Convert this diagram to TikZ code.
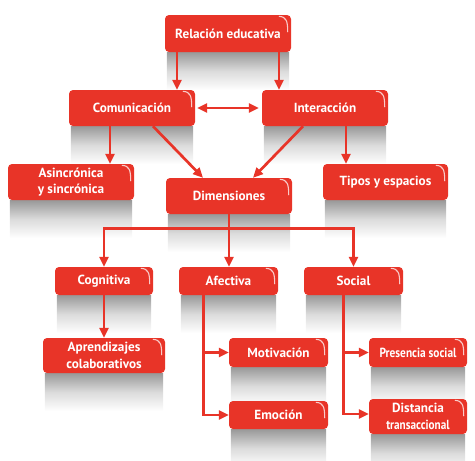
\documentclass[tikz,border=0pt]{standalone}
\usepackage{fontspec}
\setmainfont{PT Sans}
\usetikzlibrary{arrows.meta,calc}
\pgfdeclarelayer{background}
\pgfsetlayers{background,main}
\definecolor{boxred}{RGB}{232,52,40}
\newcommand{\squeezed}[2]{\scalebox{#1}[1]{#2}}
\tikzset{
  box/.style={rectangle, rounded corners=4pt, fill=boxred, text=white,
    font=\fontsize{13.2}{16.5}\selectfont\bfseries, align=center, inner sep=0pt},
  arr/.style={draw=boxred, line width=2.7pt, -{Triangle[length=10pt,width=9pt]}},
  arrtwo/.style={draw=boxred, line width=2.7pt, {Triangle[length=10pt,width=9pt]}-{Triangle[length=10pt,width=9pt]}},
  gloss/.style={draw=white, line width=1.1pt, opacity=0.75, line cap=round},
}
\begin{document}
\begin{tikzpicture}[x=1pt,y=-1pt]
\useasboundingbox (0,0) rectangle (475,461);
% boxes
\node[box, minimum width=126pt, minimum height=37pt] (rel)  at (228,33.5) {Relación educativa};
\node[box, minimum width=126pt, minimum height=36pt] (com)  at (132,108) {Comunicación};
\node[box, minimum width=126pt, minimum height=36pt] (int)  at (325,108) {Interacción};
\node[box, minimum width=126pt, minimum height=36pt] (asin) at (71,182) {Asincrónica\\y sincrónica};
\node[box, minimum width=126pt, minimum height=36pt] (dim)  at (229,196) {Dimensiones};
\node[box, minimum width=125pt, minimum height=36pt] (tip)  at (385.5,182) {Tipos y espacios};
\node[box, minimum width=98pt, minimum height=28pt] (cog)  at (104,281) {Cognitiva};
\node[box, minimum width=99pt, minimum height=28pt] (afe)  at (228.5,281) {Afectiva};
\node[box, minimum width=99pt, minimum height=28pt] (soc)  at (353.5,281) {Social};
\node[box, minimum width=122pt, minimum height=35pt] (apr)  at (104,355.5) {Aprendizajes\\colaborativos};
\node[box, minimum width=99pt, minimum height=29pt] (mot)  at (278.5,352.5) {Motivación};
\node[box, minimum width=98pt, minimum height=29pt] (pre)  at (418,352.5) {\squeezed{0.86}{Presencia social}};
\node[box, minimum width=99pt, minimum height=28pt] (emo)  at (278.5,415) {Emoción};
\node[box, minimum width=98pt, minimum height=35pt] (dis)  at (418,416.5) {Distancia\\\squeezed{0.85}{transaccional}};
% reflections and gloss
\foreach \n in {rel,com,int,asin,dim,tip,cog,afe,soc,apr,mot,pre,emo,dis}{
  \begin{pgfonlayer}{background}
    \shade[top color=black!40, bottom color=white, middle color=black!14]
      ([xshift=2pt]\n.south west) rectangle ([xshift=-2pt,yshift=-38pt]\n.south east);
  \end{pgfonlayer}
  \draw[gloss] ([xshift=-12pt,yshift=-1.6pt]\n.north east)
    .. controls ([xshift=-5pt,yshift=-2pt]\n.north east) and ([xshift=-3.5pt,yshift=-6pt]\n.north east)
    .. ([xshift=-3.5pt,yshift=-17pt]\n.north east);
}
% connectors
\draw[arr] ([xshift=-51pt]rel.south) -- ([xshift=-51pt]rel.south |- com.north);
\draw[arr] ([xshift=51pt]rel.south) -- ([xshift=51pt]rel.south |- int.north);
\draw[arrtwo] ([xshift=2pt]com.east) -- ([xshift=-3pt]int.west);
\draw[arr] ([xshift=-22pt]com.south) -- ([xshift=-22pt]com.south |- asin.north);
\draw[arr] ([xshift=21pt]int.south) -- ([xshift=21pt]int.south |- tip.north);
\draw[arr] ([xshift=21pt]com.south) -- ([xshift=-26pt]dim.north);
\draw[arr] ([xshift=-22pt]int.south) -- ([xshift=24pt]dim.north);
\draw[arr] (dim.south) -- (dim.south |- afe.north);
\draw[arr] (dim.south) -- ++(0,14) -| (cog.north);
\draw[arr] (dim.south) -- ++(0,14) -| (soc.north);
\draw[arr] (cog.south) -- (apr.north);
\draw[arr] ([xshift=-25pt]afe.south) |- (mot.west);
\draw[arr] ([xshift=-25pt]afe.south) |- (emo.west);
\draw[arr] ([xshift=-10pt]soc.south) |- (pre.west);
\draw[arr] ([xshift=-10pt]soc.south) |- ([yshift=2.5pt]dis.west);
\end{tikzpicture}
\end{document}
